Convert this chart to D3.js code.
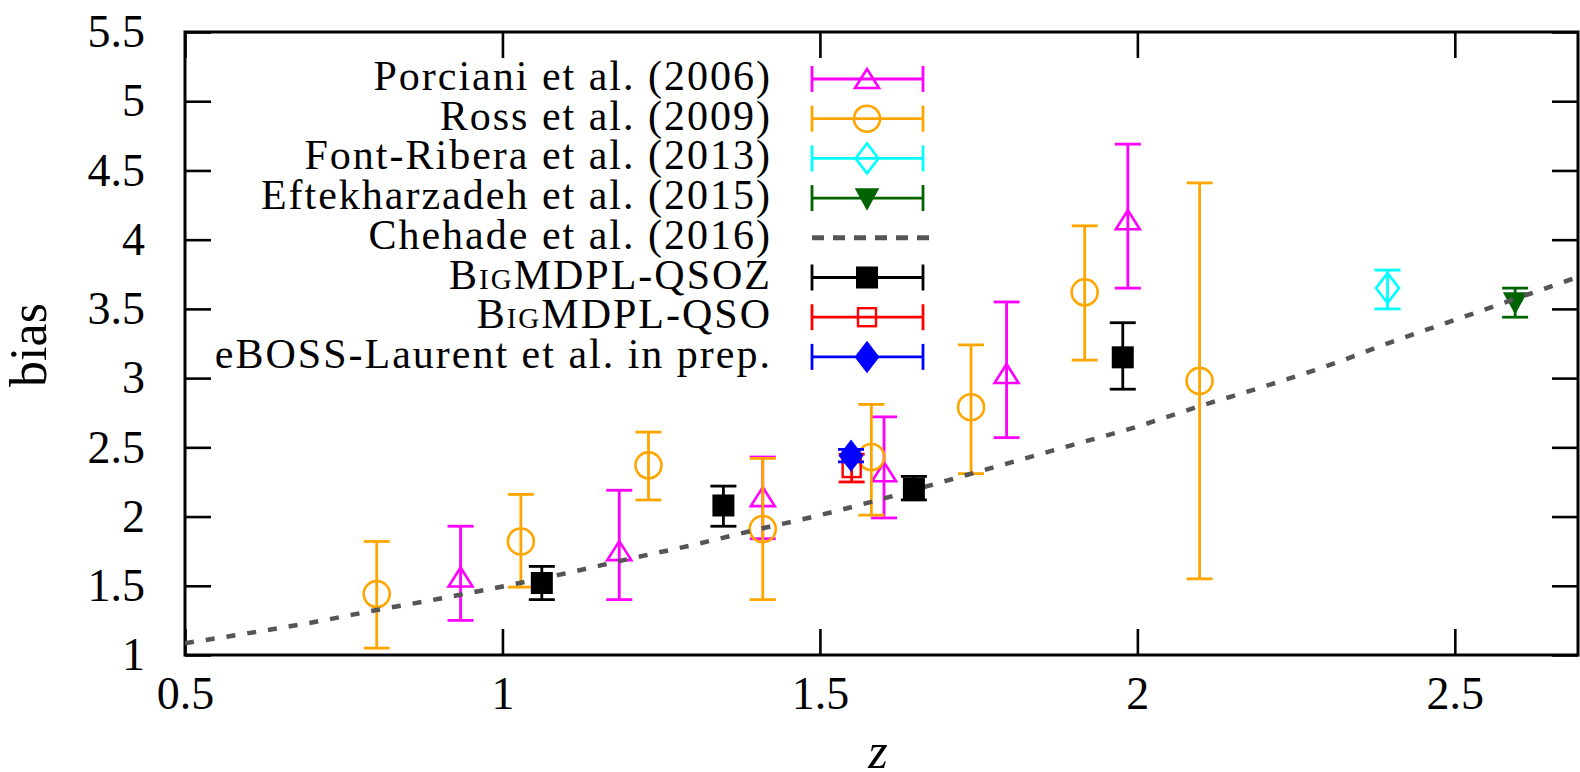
<!DOCTYPE html>
<html>
<head>
<meta charset="utf-8">
<script src="https://cdn.jsdelivr.net/npm/d3@7"></script>
<style>
body { margin: 0; background: #fff; }
svg { display: block; }
text { font-family: "Liberation Serif", "DejaVu Serif", serif; fill: #000; }
</style>
</head>
<body>
<svg width="1580" height="772"></svg>
<script>
// values (z, bias, lower end of bar, upper end of bar)
var porcZ = [0.934, 1.184, 1.41, 1.601, 1.794, 1.985];
var porcB = [1.56, 1.75, 2.14, 2.32, 3.03, 4.14];
var porcLo = [1.25, 1.40, 1.84, 1.99, 2.57, 3.65];
var porcHi = [1.93, 2.19, 2.43, 2.72, 3.55, 4.69];

var rossZ = [0.802, 1.029, 1.230, 1.41, 1.581, 1.738, 1.917, 2.098];
var rossB = [1.44, 1.82, 2.37, 1.91, 2.43, 2.79, 3.62, 2.98];
var rossLo = [1.05, 1.49, 2.12, 1.40, 2.01, 2.31, 3.13, 1.55];
var rossHi = [1.82, 2.16, 2.61, 2.42, 2.81, 3.24, 4.10, 4.41];

var fontZ = [2.394];
var fontB = [3.65];
var fontLo = [3.50];
var fontHi = [3.78];

var eftZ = [2.595];
var eftB = [3.55];
var eftLo = [3.44];
var eftHi = [3.65];

var chehadeZ = [0.5, 0.6, 0.7, 0.8, 0.9, 1.0, 1.1, 1.2, 1.3, 1.4, 1.5, 1.6, 1.7, 1.8, 1.9, 2.0, 2.1, 2.2, 2.3, 2.4, 2.5, 2.6, 2.7];
var chehadeB = [1.085, 1.158, 1.235, 1.323, 1.406, 1.495, 1.590, 1.695, 1.795, 1.905, 2.01, 2.13, 2.26, 2.39, 2.52, 2.65, 2.80, 2.94, 3.09, 3.26, 3.42, 3.58, 3.74];

var qsozZ = [1.062, 1.348, 1.648, 1.977];
var qsozB = [1.52, 2.08, 2.20, 3.15];
var qsozLo = [1.40, 1.93, 2.12, 2.92];
var qsozHi = [1.64, 2.22, 2.29, 3.40];

var qsoZ = [1.55];
var qsoB = [2.35];
var qsoLo = [2.25];
var qsoHi = [2.45];

var ebossZ = [1.549];
var ebossB = [2.44];
var ebossLo = [2.395];
var ebossHi = [2.485];

var xTicks = [0.5, 1, 1.5, 2, 2.5];
var xTickLabels = ["0.5", "1", "1.5", "2", "2.5"];
var yTicks = [1, 1.5, 2, 2.5, 3, 3.5, 4, 4.5, 5, 5.5];
var yTickLabels = ["1", "1.5", "2", "2.5", "3", "3.5", "4", "4.5", "5", "5.5"];

var legendLabels = ["Porciani et al. (2006)", "Ross et al. (2009)", "Font-Ribera et al. (2013)",
	"Eftekharzadeh et al. (2015)", "Chehade et al. (2016)", "BigMDPL-QSOZ", "BigMDPL-QSO",
	"eBOSS-Laurent et al. in prep."];

var svg = d3.select("svg"),
	width = +svg.attr("width"),
	height = +svg.attr("height");

var x = d3.scaleLinear().domain([0.5, 2.694]).range([185, 1578]);
var y = d3.scaleLinear().domain([1, 5.5]).range([655, 32]);

svg.append("clipPath").attr("id", "plotclip")
	.append("rect")
		.attr("x", x.range()[0]).attr("y", y.range()[1])
		.attr("width", x.range()[1] - x.range()[0])
		.attr("height", y.range()[0] - y.range()[1]);

//axes, ticks pointing inwards on all four sides
var bottomAxis = svg.append("g")
	.attr("transform", "translate(0," + y(1) + ")")
	.call(d3.axisBottom(x).tickValues(xTicks).tickSize(-26).tickSizeOuter(0).tickPadding(21)
		.tickFormat(function(d, i) { return xTickLabels[i]; }));
var leftAxis = svg.append("g")
	.attr("transform", "translate(" + x(0.5) + ",0)")
	.call(d3.axisLeft(y).tickValues(yTicks).tickSize(-26).tickSizeOuter(0).tickPadding(40)
		.tickFormat(function(d, i) { return yTickLabels[i]; }));
var topAxis = svg.append("g")
	.attr("transform", "translate(0," + y(5.5) + ")")
	.call(d3.axisTop(x).tickValues(xTicks).tickSize(-26).tickSizeOuter(0).tickFormat(""));
var rightAxis = svg.append("g")
	.attr("transform", "translate(" + x.range()[1] + ",0)")
	.call(d3.axisRight(y).tickValues(yTicks).tickSize(-26).tickSizeOuter(0).tickFormat(""));

svg.selectAll(".domain").remove();
svg.selectAll(".tick line").attr("stroke", "#000").attr("stroke-width", 2.6);
svg.selectAll(".tick text")
	.style("font-family", '"Liberation Serif", serif')
	.attr("font-size", 46)
	.attr("fill", "#000");

svg.append("rect")
	.attr("x", x.range()[0]).attr("y", y.range()[1])
	.attr("width", x.range()[1] - x.range()[0])
	.attr("height", y.range()[0] - y.range()[1])
	.attr("fill", "none").attr("stroke", "#000").attr("stroke-width", 3);

svg.append("text")
	.attr("transform", "translate(46,345) rotate(-90)")
	.attr("text-anchor", "middle")
	.attr("font-size", 52)
	.text("bias");

svg.append("text")
	.attr("x", 878).attr("y", 768)
	.attr("text-anchor", "middle")
	.attr("font-size", 50)
	.attr("font-style", "italic")
	.text("z");

//marker shapes
function drawMarker(g, shape, color, cx, cy) {
	if (shape == "circle") {
		g.append("circle").attr("cx", cx).attr("cy", cy).attr("r", 13)
			.attr("fill", "none").attr("stroke", color).attr("stroke-width", 2.6);
	}
	else if (shape == "triangle") {
		g.append("path").attr("d", "M0,-10L12,9L-12,9Z").attr("transform", "translate(" + cx + "," + cy + ")")
			.attr("fill", "none").attr("stroke", color).attr("stroke-width", 2.6);
	}
	else if (shape == "diamond") {
		g.append("path").attr("d", "M0,-15L11.5,0L0,15L-11.5,0Z").attr("transform", "translate(" + cx + "," + cy + ")")
			.attr("fill", "none").attr("stroke", color).attr("stroke-width", 2.6);
	}
	else if (shape == "diamondFilled") {
		g.append("path").attr("d", "M0,-15L11.5,0L0,15L-11.5,0Z").attr("transform", "translate(" + cx + "," + cy + ")")
			.attr("fill", color).attr("stroke", color).attr("stroke-width", 1.5);
	}
	else if (shape == "triangleDown") {
		g.append("path").attr("d", "M-11,-9L11,-9L0,11Z").attr("transform", "translate(" + cx + "," + cy + ")")
			.attr("fill", color).attr("stroke", color).attr("stroke-width", 1.5);
	}
	else if (shape == "square") {
		g.append("rect").attr("x", cx - 11).attr("y", cy - 11).attr("width", 22).attr("height", 22)
			.attr("fill", color);
	}
	else if (shape == "squareOpen") {
		g.append("rect").attr("x", cx - 9).attr("y", cy - 9).attr("width", 18).attr("height", 18)
			.attr("fill", "none").attr("stroke", color).attr("stroke-width", 2.4);
	}
}

var plot = svg.append("g").attr("clip-path", "url(#plotclip)");

function drawSeries(zs, bs, los, his, color, shape) {
	var g = plot.append("g");
	var pts = zs.map(function(z, i) { return { z: z, b: bs[i], lo: los[i], hi: his[i] }; });
	g.selectAll("line.bar").data(pts).enter().append("line")
		.attr("x1", function(d) { return x(d.z); })
		.attr("x2", function(d) { return x(d.z); })
		.attr("y1", function(d) { return y(d.lo); })
		.attr("y2", function(d) { return y(d.hi); })
		.attr("stroke", color).attr("stroke-width", 2.8);
	["lo", "hi"].forEach(function(k) {
		g.selectAll("line.cap" + k).data(pts).enter().append("line")
			.attr("x1", function(d) { return x(d.z) - 13; })
			.attr("x2", function(d) { return x(d.z) + 13; })
			.attr("y1", function(d) { return y(d[k]); })
			.attr("y2", function(d) { return y(d[k]); })
			.attr("stroke", color).attr("stroke-width", 2.8);
	});
	pts.forEach(function(d) { drawMarker(g, shape, color, x(d.z), y(d.b)); });
}

var chehadeLine = d3.line()
	.curve(d3.curveMonotoneX)
	.x(function(d, i) { return x(chehadeZ[i]); })
	.y(function(d) { return y(d); });

drawSeries(porcZ, porcB, porcLo, porcHi, "#ff00ff", "triangle");
drawSeries(rossZ, rossB, rossLo, rossHi, "#ffa500", "circle");
drawSeries(fontZ, fontB, fontLo, fontHi, "#00ffff", "diamond");
drawSeries(eftZ, eftB, eftLo, eftHi, "#006400", "triangleDown");

plot.append("path")
	.attr("d", chehadeLine(chehadeB))
	.attr("fill", "none")
	.attr("stroke", "#555")
	.attr("stroke-width", 4.5)
	.attr("stroke-dasharray", "9,12");

drawSeries(qsozZ, qsozB, qsozLo, qsozHi, "#000000", "square");
drawSeries(qsoZ, qsoB, qsoLo, qsoHi, "#ff0000", "squareOpen");
drawSeries(ebossZ, ebossB, ebossLo, ebossHi, "#0000ff", "diamondFilled");

//legend
var legendColors = ["#ff00ff", "#ffa500", "#00ffff", "#006400", "#555", "#000000", "#ff0000", "#0000ff"];
var legendShapes = ["triangle", "circle", "diamond", "triangleDown", "dash", "square", "squareOpen", "diamondFilled"];

var legend = svg.append("g");
legendLabels.forEach(function(label, i) {
	var ly = 79 + i * 39.7;
	var t = legend.append("text")
		.attr("x", 772).attr("y", ly + 11)
		.attr("text-anchor", "end")
		.attr("font-size", 42)
		.attr("letter-spacing", 2);
	if (label.indexOf("BigMDPL") == 0) {
		t.append("tspan").text("B");
		t.append("tspan").style("font-variant", "small-caps").text("ig");
		t.append("tspan").text(label.slice(3));
	}
	else {
		t.text(label);
	}
	var col = legendColors[i];
	if (legendShapes[i] == "dash") {
		legend.append("line")
			.attr("x1", 812).attr("x2", 929).attr("y1", ly).attr("y2", ly)
			.attr("stroke", col).attr("stroke-width", 5)
			.attr("stroke-dasharray", "12,9");
		return;
	}
	legend.append("line").attr("x1", 812).attr("x2", 923).attr("y1", ly).attr("y2", ly)
		.attr("stroke", col).attr("stroke-width", 2.8);
	[812, 923].forEach(function(cx) {
		legend.append("line").attr("x1", cx).attr("x2", cx).attr("y1", ly - 13).attr("y2", ly + 13)
			.attr("stroke", col).attr("stroke-width", 2.8);
	});
	drawMarker(legend, legendShapes[i], col, 867, ly);
});
</script>
</body>
</html>
